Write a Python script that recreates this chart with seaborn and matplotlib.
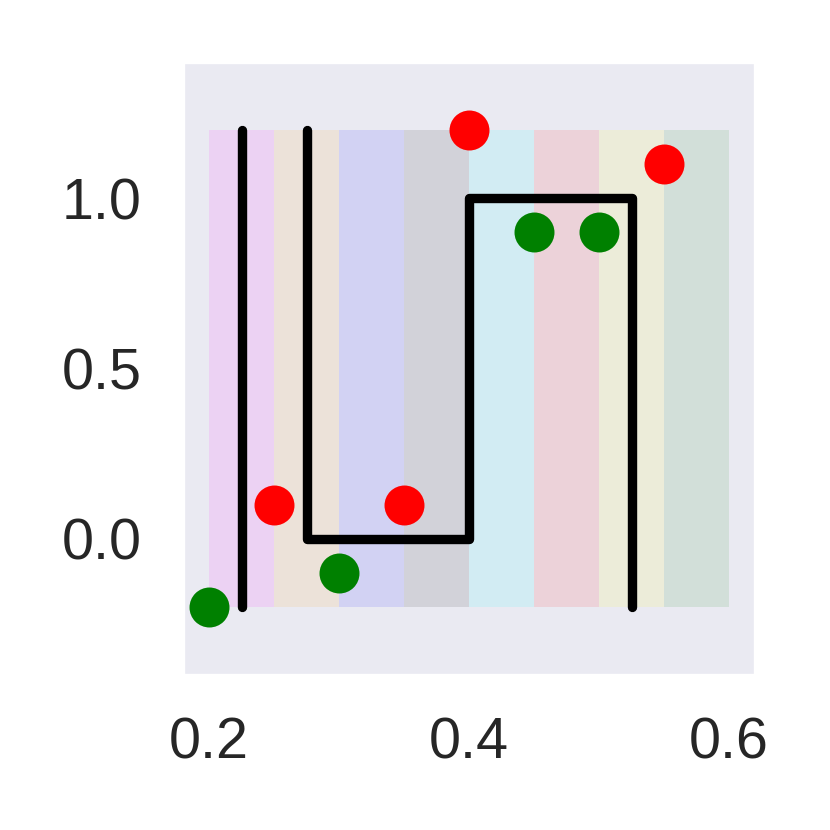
import matplotlib
matplotlib.use("Agg")
import matplotlib.pyplot as plt
import seaborn as sns
import pandas as pd
import numpy as np

# band edges and colours
band_left = [0.20, 0.25, 0.30, 0.35, 0.40, 0.45, 0.50, 0.55]
band_colors = ["magenta", "orange", "blue", "black", "cyan", "red", "yellow", "green"]
band_bottom = -0.2
band_top = 1.2

# black lines
line1_x = [0.225, 0.225]
line1_y = [-0.2, 1.2]
line2_x = [0.275, 0.275, 0.4, 0.4, 0.525, 0.525]
line2_y = [1.2, 0.0, 0.0, 1.0, 1.0, -0.2]

# points
red_x = [0.25, 0.35, 0.40, 0.55]
red_y = [0.1, 0.1, 1.2, 1.1]
green_x = [0.20, 0.30, 0.45, 0.50]
green_y = [-0.2, -0.1, 0.9, 0.9]

sns.set_style("dark")
plt.rcParams['font.family'] = ['Liberation Sans', 'DejaVu Sans']

fig = plt.figure(figsize=(830 / 300, 830 / 300), dpi=300)
ax = fig.add_axes([183 / 830, 155 / 830, 572 / 830, 613 / 830])

ax.bar(band_left, band_top - band_bottom, width=0.05, bottom=band_bottom,
       align="edge", color=band_colors, alpha=0.1, linewidth=0, zorder=1)

l1 = pd.DataFrame({"x": line1_x, "y": line1_y})
l2 = pd.DataFrame({"x": line2_x, "y": line2_y})
for df in (l1, l2):
    sns.lineplot(data=df, x="x", y="y", sort=False, estimator=None, color="black",
                 linewidth=2.25, ax=ax, zorder=2,
                 solid_capstyle="round", solid_joinstyle="round")

sns.scatterplot(x=red_x, y=red_y, color="red", s=92, linewidth=0, ax=ax, zorder=3)
sns.scatterplot(x=green_x, y=green_y, color="green", s=92, linewidth=0, ax=ax, zorder=3)

ax.set_xlim(0.18, 0.62)
ax.set_ylim(-0.4, 1.4)
ax.set_xticks([0.2, 0.4, 0.6])
ax.set_yticks([0.0, 0.5, 1.0])
ax.set_xlabel("")
ax.set_ylabel("")
ax.tick_params(labelsize=13.8, length=0, pad=10, colors="#262626")

fig.savefig("out.png", dpi=300)
